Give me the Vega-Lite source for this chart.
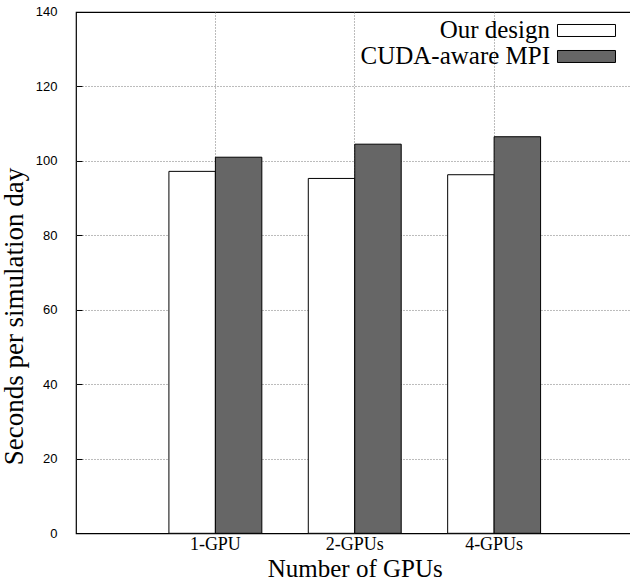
{
  "$schema": "https://vega.github.io/schema/vega-lite/v6.json",
  "width": 557.5,
  "height": 521.3,
  "autosize": {"type": "none"},
  "padding": {"left": 76, "top": 12, "right": 0, "bottom": 50},
  "background": "white",
  "data": {
    "values": [
      {"gpus": "1-GPU", "series": "Our design", "seconds": 97.2},
      {"gpus": "1-GPU", "series": "CUDA-aware MPI", "seconds": 101.0},
      {"gpus": "2-GPUs", "series": "Our design", "seconds": 95.3},
      {"gpus": "2-GPUs", "series": "CUDA-aware MPI", "seconds": 104.5},
      {"gpus": "4-GPUs", "series": "Our design", "seconds": 96.3},
      {"gpus": "4-GPUs", "series": "CUDA-aware MPI", "seconds": 106.5}
    ]
  },
  "mark": {"type": "bar", "stroke": "black", "strokeWidth": 1},
  "encoding": {
    "x": {
      "field": "gpus",
      "type": "nominal",
      "sort": ["1-GPU", "2-GPUs", "4-GPUs"],
      "scale": {"paddingInner": 0.3333, "paddingOuter": 0.6667},
      "axis": {
        "title": "Number of GPUs",
        "titleFont": "Liberation Serif",
        "titleFontSize": 25,
        "titleFontWeight": "normal",
        "titleColor": "black",
        "titlePadding": 3,
        "labelFont": "Liberation Serif",
        "labelFontSize": 18,
        "labelColor": "black",
        "labelAngle": 0,
        "labelPadding": 8,
        "bandPosition": 0.5,
        "grid": true,
        "gridColor": "#777777",
        "gridDash": [1, 2],
        "domain": false,
        "ticks": true,
        "tickSize": -6,
        "tickColor": "black"
      }
    },
    "xOffset": {"field": "series", "type": "nominal", "sort": ["Our design", "CUDA-aware MPI"]},
    "y": {
      "field": "seconds",
      "type": "quantitative",
      "scale": {"domain": [0, 140], "nice": false},
      "axis": {
        "title": "Seconds per simulation day",
        "titleFont": "Liberation Serif",
        "titleFontSize": 27,
        "titleFontWeight": "normal",
        "titleColor": "black",
        "titleX": -48,
        "titleY": 304,
        "titleAnchor": null,
        "titleAlign": "center",
        "values": [0, 20, 40, 60, 80, 100, 120, 140],
        "labelFont": "Liberation Sans",
        "labelFontSize": 13,
        "labelColor": "black",
        "labelPadding": 25,
        "grid": true,
        "gridColor": "#777777",
        "gridDash": [1, 2],
        "gridOpacity": {"condition": {"test": "datum.value === 0 || datum.value === 140", "value": 0}, "value": 1},
        "domain": false,
        "tickSize": -6,
        "tickColor": "black"
      }
    },
    "fill": {
      "field": "series",
      "type": "nominal",
      "scale": {"domain": ["Our design", "CUDA-aware MPI"], "range": ["#ffffff", "#666666"]},
      "legend": {
        "orient": "none",
        "legendX": 498,
        "legendY": 6,
        "title": null,
        "padding": 0,
        "symbolType": "M -2.9 -0.6 L 2.9 -0.6 L 2.9 0.6 L -2.9 0.6 Z",
        "symbolSize": 400,
        "symbolStrokeColor": "black",
        "symbolStrokeWidth": 1,
        "symbolOpacity": 1,
        "labelFont": "Liberation Serif",
        "labelFontSize": 25,
        "labelColor": "black",
        "labelAlign": "right",
        "labelOffset": -49,
        "labelLimit": 400,
        "rowPadding": 0
      }
    }
  },
  "config": {
    "view": {"stroke": "black", "strokeWidth": 1.2},
    "bar": {"opacity": 1}
  }
}
